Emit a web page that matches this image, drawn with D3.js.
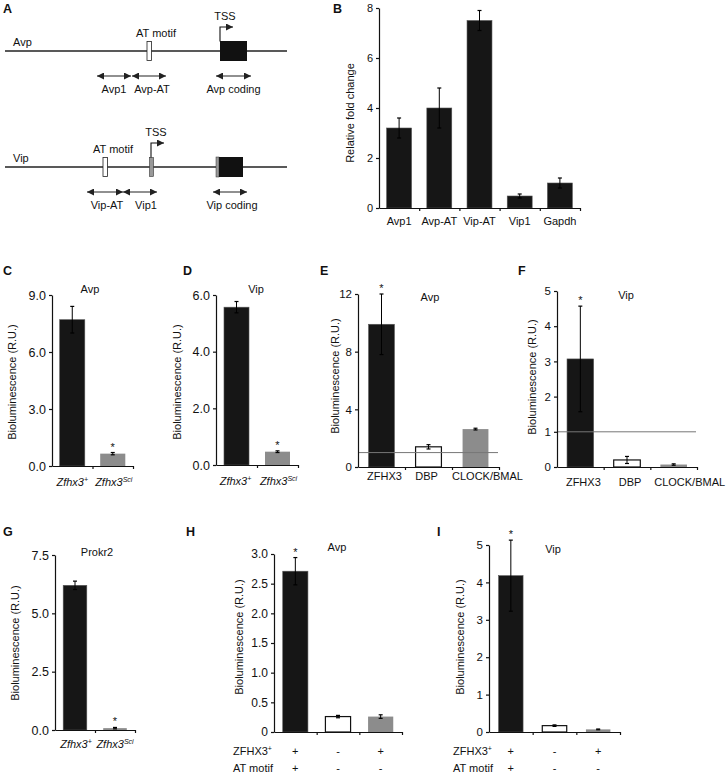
<!DOCTYPE html>
<html>
<head>
<meta charset="utf-8">
<script src="https://cdn.jsdelivr.net/npm/d3@7"></script>
<style>
  body { margin: 0; background: #fff; }
  svg { font-family: "Liberation Sans", Arial, sans-serif; }
</style>
</head>
<body>
<svg id="fig" width="726" height="775"></svg>
<script>
// ---- data ----
// panel B: ChIP enrichment
const bCats = ["Avp1", "Avp-AT", "Vip-AT", "Vip1", "Gapdh"];
const bVals = [3.2, 4.0, 7.5, 0.48, 1.0];
const bErr = [0.4, 0.8, 0.4, 0.08, 0.2];
const bTicks = [0, 2, 4, 6, 8];

// panels C, D, G: genotype comparison
const genoCats = ["+", "Sci"];
const cVals = [7.7, 0.65];
const cErr = [0.7, 0.06];
const cTicks = [0, 3, 6, 9];
const dVals = [5.57, 0.47];
const dErr = [0.2, 0.03];
const dTicks = [0, 2, 4, 6];
const gVals = [6.2, 0.08];
const gErr = [0.18, 0.03];
const gTicks = [0, 2.5, 5, 7.5];
const genoStars = [false, true];

// panels E, F: transcription factors
const tfCats = ["ZFHX3", "DBP", "CLOCK/BMAL"];
const eVals = [9.9, 1.4, 2.63];
const eErr = [2.1, 0.15, 0.06];
const eTicks = [0, 4, 8, 12];
const fVals = [3.07, 0.2, 0.07];
const fErr = [1.5, 0.1, 0.02];
const fTicks = [0, 1, 2, 3, 4, 5];
const tfStars = [true, false, false];
const baseline = 1;

// panels H, I: AT motif
const motifCats = ["wt", "empty", "mut"];
const zfhxRow = ["+", "-", "+"];
const atRow = ["+", "-", "-"];
const hVals = [2.71, 0.26, 0.26];
const hErr = [0.23, 0.02, 0.03];
const hTicks = [0, 0.5, 1, 1.5, 2, 2.5, 3];
const iVals = [4.18, 0.17, 0.07];
const iErr = [0.95, 0.02, 0.01];
const iTicks = [0, 1, 2, 3, 4, 5];
const motifStars = [true, false, false];

const BLACK = "#161616", GREY = "#8c8c8c", WHITE = "#ffffff";
const FS = 11;

const svg = d3.select("#fig");

// arrowheads
const defs = svg.append("defs");
defs.append("marker").attr("id", "head")
    .attr("viewBox", "0 0 7 7").attr("refX", 7).attr("refY", 3.5)
    .attr("markerWidth", 7).attr("markerHeight", 7)
    .attr("markerUnits", "userSpaceOnUse").attr("orient", "auto-start-reverse")
  .append("path").attr("d", "M0,0L7,3.5L0,7Z").attr("fill", "#222");

function txt(x, y, s, opts = {}) {
    return svg.append("text")
        .attr("x", x).attr("y", y)
        .attr("font-size", opts.size || FS)
        .attr("font-weight", opts.bold ? "bold" : null)
        .attr("text-anchor", opts.anchor || "middle")
        .attr("fill", "#111")
        .text(s);
}

// ---- panel letters ----
[["A", 3, 13], ["B", 333, 13], ["C", 3, 275], ["D", 183, 275], ["E", 320, 275],
 ["F", 518, 275], ["G", 3, 536], ["H", 186, 536], ["I", 437, 536]]
    .forEach(([l, x, y]) => txt(x, y, l, {size: 12.5, bold: true, anchor: "start"}));

// ---- panel A: promoter schematics ----
function geneRow(r) {
    svg.append("line").attr("x1", 5).attr("x2", 287).attr("y1", r.y).attr("y2", r.y)
        .attr("stroke", "#222").attr("stroke-width", 1.3);
    txt(13, r.y - 5, r.name, {anchor: "start"});
    // AT motif box
    svg.append("rect").attr("x", r.at).attr("y", r.y - 9.5).attr("width", 4.5).attr("height", 19)
        .attr("fill", "#fff").attr("stroke", "#222").attr("stroke-width", 0.8);
    txt(r.atLabel, r.y - 14, "AT motif");
    // coding exon
    if (r.utr) {
        svg.append("rect").attr("x", r.cds[0] - 3).attr("y", r.y - 10).attr("width", 3).attr("height", 20)
            .attr("fill", "#999").attr("stroke", "#333").attr("stroke-width", 0.5);
    }
    svg.append("rect").attr("x", r.cds[0]).attr("y", r.y - 10)
        .attr("width", r.cds[1] - r.cds[0]).attr("height", 20).attr("fill", "#111");
    if (r.tssBox) {
        svg.append("rect").attr("x", r.tss - 1.5).attr("y", r.y - 9.5).attr("width", 4).attr("height", 19)
            .attr("fill", "#999").attr("stroke", "#333").attr("stroke-width", 0.6);
    }
    // TSS arrow
    svg.append("path")
        .attr("d", `M${r.tss},${r.y - 9.5}V${r.y - 24}H${r.tss + 13}`)
        .attr("fill", "none").attr("stroke", "#111").attr("stroke-width", 1.1)
        .attr("marker-end", "url(#head)");
    txt(r.tss + 5, r.y - 31, "TSS");
    // amplicons
    r.amps.forEach(a => {
        svg.append("line").attr("x1", a.x[0]).attr("x2", a.x[1])
            .attr("y1", r.y + 25).attr("y2", r.y + 25)
            .attr("stroke", "#222").attr("stroke-width", 1.1)
            .attr("marker-start", "url(#head)").attr("marker-end", "url(#head)");
        txt((a.x[0] + a.x[1]) / 2 + (a.dx || 0), r.y + 42, a.name);
    });
}

geneRow({name: "Avp", y: 51, at: 147, atLabel: 156, tss: 220, cds: [220, 247], utr: false,
    amps: [{name: "Avp1", x: [97, 131]}, {name: "Avp-AT", x: [132, 166], dx: 3},
           {name: "Avp coding", x: [216, 251]}]});
geneRow({name: "Vip", y: 167, at: 103, atLabel: 113, tss: 151, tssBox: true, cds: [219, 243], utr: true,
    amps: [{name: "Vip-AT", x: [87, 123], dx: 2}, {name: "Vip1", x: [123, 157], dx: 6},
           {name: "Vip coding", x: [213, 247], dx: 2}]});

// ---- bar panels ----
function barPanel(p) {
    const g = svg.append("g");
    const n = p.vals.length;
    const x = d3.scaleBand().domain(d3.range(n)).range([p.x0, p.x1])
        .paddingInner(p.pad).paddingOuter(p.pad / 2);
    const y = d3.scaleLinear().domain([0, p.max]).range([p.yb, p.yt]);
    const fills = p.fills;

    // bars
    g.selectAll("rect.bar").data(p.vals).join("rect")
        .attr("class", "bar")
        .attr("x", (d, i) => x(i))
        .attr("y", d => y(d))
        .attr("width", x.bandwidth())
        .attr("height", d => p.yb - y(d))
        .attr("fill", (d, i) => fills[i])
        .attr("stroke", (d, i) => fills[i] === WHITE ? "#111" : (fills[i] === BLACK ? "#555" : "none"))
        .attr("stroke-width", (d, i) => fills[i] === WHITE ? 1.2 : 0.6);

    // reference line
    if (p.refLine !== undefined) {
        g.append("line").attr("x1", p.x0).attr("x2", p.x1 - 1)
            .attr("y1", y(p.refLine)).attr("y2", y(p.refLine))
            .attr("stroke", "#777").attr("stroke-width", 1);
    }

    // error bars
    const cx = i => x(i) + x.bandwidth() / 2;
    p.vals.forEach((v, i) => {
        const e = p.err[i];
        const top = y(v + e), bot = y(Math.max(0, v - e));
        g.append("line").attr("x1", cx(i)).attr("x2", cx(i)).attr("y1", bot).attr("y2", top)
            .attr("stroke", "#000").attr("stroke-width", 1);
        [top, bot].forEach(yy => g.append("line")
            .attr("x1", cx(i) - 2).attr("x2", cx(i) + 2).attr("y1", yy).attr("y2", yy)
            .attr("stroke", "#000").attr("stroke-width", 1.2));
        if (p.stars && p.stars[i]) {
            g.append("text").attr("x", cx(i)).attr("y", top - 2)
                .attr("text-anchor", "middle").attr("font-size", FS).attr("fill", "#111").text("*");
        }
    });

    // axes
    const ya = g.append("g").attr("transform", `translate(${p.x0},0)`)
        .call(d3.axisLeft(y).tickValues(p.ticks).tickFormat(p.fmt).tickSize(3).tickSizeOuter(0));
    const xi = d3.scaleLinear().domain([0, n]).range([p.x0, p.x1]);
    const xa = g.append("g").attr("transform", `translate(0,${p.yb})`)
        .call(d3.axisBottom(xi).tickValues(d3.range(1, n + 1)).tickFormat("").tickSize(3).tickSizeOuter(0));
    [ya, xa].forEach(a => {
        a.attr("font-family", null).attr("font-size", p.tickFS || FS);
        a.selectAll("path,line").attr("stroke", "#111").attr("stroke-width", 1.2);
        a.selectAll("text").attr("fill", "#111");
    });

    // category labels
    if (p.labels) {
        p.labels.forEach((l, i) => {
            const t = g.append("text").attr("x", cx(i) + (p.labelDx ? p.labelDx[i] : 0))
                .attr("y", p.labelY).attr("text-anchor", "middle").attr("font-size", FS)
                .attr("fill", "#111");
            if (p.geno) {
                t.append("tspan").attr("font-style", "italic").text("Zfhx3");
                t.append("tspan").attr("font-style", "italic").attr("font-size", 7)
                    .attr("dy", -4).text(l);
            } else {
                t.text(l);
            }
        });
    }

    // plus/minus rows
    if (p.rows) {
        p.rows.forEach((row, r) => {
            const ry = p.rowY[r];
            const lab = g.append("text").attr("x", p.rowX).attr("y", ry)
                .attr("font-size", FS).attr("fill", "#111");
            if (r === 0) {
                lab.append("tspan").text("ZFHX3");
                lab.append("tspan").attr("font-size", 7).attr("dy", -4).text("+");
            } else {
                lab.text("AT motif");
            }
            row.forEach((s, i) => g.append("text").attr("x", cx(i)).attr("y", ry)
                .attr("text-anchor", "middle").attr("font-size", FS).attr("fill", "#111").text(s));
        });
    }

    // title
    if (p.title) {
        g.append("text").attr("x", p.title[1]).attr("y", p.title[2]).attr("text-anchor", "middle")
            .attr("font-size", FS).attr("fill", "#111").text(p.title[0]);
    }
    // y label
    g.append("text").attr("transform", `translate(${p.ylab[1]},${p.ylab[2]}) rotate(-90)`)
        .attr("text-anchor", "middle").attr("dominant-baseline", "middle")
        .attr("font-size", FS).attr("fill", "#111").text(p.ylab[0]);
}

const f1 = d3.format(".1f");
const intf = d3.format("d");
const BIO = "Bioluminescence (R.U.)";

// B
barPanel({vals: bVals, err: bErr, ticks: bTicks, fmt: intf, max: 8,
    x0: 379, x1: 580, yb: 208, yt: 8, pad: 0.38, fills: bVals.map(() => BLACK),
    labels: bCats, labelY: 225, ylab: ["Relative fold change", 351, 113]});

// C
barPanel({vals: cVals, err: cErr, ticks: cTicks, fmt: f1, max: 9, tickFS: 12.5,
    x0: 52, x1: 133, yb: 466, yt: 295, pad: 0.38, fills: [BLACK, GREY], stars: genoStars,
    labels: genoCats, geno: true, labelY: 486, labelDx: [0, 1],
    title: ["Avp", 90, 293], ylab: [BIO, 13, 382]});

// D
barPanel({vals: dVals, err: dErr, ticks: dTicks, fmt: f1, max: 6, tickFS: 12.5,
    x0: 216, x1: 298, yb: 465, yt: 295, pad: 0.39, fills: [BLACK, GREY], stars: genoStars,
    labels: genoCats, geno: true, labelY: 485, labelDx: [-1, 1],
    title: ["Vip", 256, 293], ylab: [BIO, 178, 382]});

// E
barPanel({vals: eVals, err: eErr, ticks: eTicks, fmt: intf, max: 12, tickFS: 11.5,
    x0: 358, x1: 499, yb: 467, yt: 294, pad: 0.45, fills: [BLACK, WHITE, GREY], stars: tfStars,
    refLine: baseline, labels: tfCats, labelY: 480, labelDx: [3, -2, 12],
    title: ["Avp", 430, 301], ylab: [BIO, 336, 376]});

// F
barPanel({vals: fVals, err: fErr, ticks: fTicks, fmt: intf, max: 5, tickFS: 11.5,
    x0: 557, x1: 697, yb: 467, yt: 291, pad: 0.43, fills: [BLACK, WHITE, GREY], stars: tfStars,
    refLine: baseline, labels: tfCats, labelY: 486, labelDx: [3, 3, 16],
    title: ["Vip", 626, 299], ylab: [BIO, 533, 377]});

// G
barPanel({vals: gVals, err: gErr, ticks: gTicks, fmt: f1, max: 7.5, tickFS: 12.5,
    x0: 55, x1: 135, yb: 730, yt: 555, pad: 0.41, fills: [BLACK, GREY], stars: genoStars,
    labels: genoCats, geno: true, labelY: 748, labelDx: [1, 0],
    title: ["Prokr2", 97, 556], ylab: [BIO, 16, 643]});

// H
barPanel({vals: hVals, err: hErr, ticks: hTicks, fmt: d => d === 0 ? "0" : f1(d), max: 3, tickFS: 12,
    x0: 274, x1: 402, yb: 732, yt: 554, pad: 0.41, fills: [BLACK, WHITE, GREY], stars: motifStars,
    rows: [zfhxRow, atRow], rowX: 233, rowY: [755, 772],
    title: ["Avp", 337, 551], ylab: [BIO, 240, 637]});

// I
barPanel({vals: iVals, err: iErr, ticks: iTicks, fmt: intf, max: 5, tickFS: 11.5,
    x0: 489, x1: 620, yb: 732, yt: 545, pad: 0.44, fills: [BLACK, WHITE, GREY], stars: motifStars,
    rows: [zfhxRow, atRow], rowX: 453, rowY: [755, 772],
    title: ["Vip", 553, 553], ylab: [BIO, 461, 637]});
</script>
</body>
</html>
